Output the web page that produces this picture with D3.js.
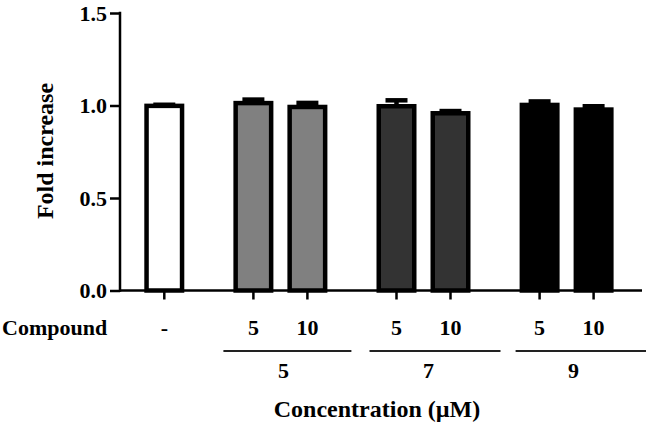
<!DOCTYPE html>
<html>
<head>
<meta charset="utf-8">
<script src="https://cdn.jsdelivr.net/npm/d3@7"></script>
<style>
  html, body { margin: 0; padding: 0; background: #fff; }
  svg { display: block; }
  text { font-family: "Liberation Serif", "Times New Roman", serif; font-weight: bold; fill: #000; }
</style>
</head>
<body>
<svg id="chart" width="646" height="425"></svg>
<script>
// ---- data ----
const concLabels = ["-", "5", "10", "5", "10", "5", "10"];
const compoundIndex = [0, 1, 1, 2, 2, 3, 3];
const compoundLabels = ["5", "7", "9"];
const meanValues = [0.998, 1.013, 0.992, 0.996, 0.958, 1.003, 0.978];
const semValues  = [0.006, 0.019, 0.022, 0.032, 0.012, 0.019, 0.018];
const yTicks = [0, 0.5, 1.0, 1.5];
const yTitle = "Fold increase";
const rowTitle = "Compound";
const xTitle = "Concentration (\u00B5M)";

// ---- layout ----
const svg = d3.select("#chart");
const axisX = 120, axisTop = 13, axisBottom = 290.5, axisRight = 642;
const groupGap = 0.65;
const slot = concLabels.map((d, i) => i + groupGap * compoundIndex[i]);

const x = d3.scaleLinear().domain([0, d3.max(slot)]).range([164.3, 593.6]);
const y = d3.scaleLinear().domain([0, 1.5]).range([axisBottom, axisTop]);
const fill = d3.scaleOrdinal().domain([0, 1, 2, 3]).range(["#ffffff", "#808080", "#333333", "#000000"]);

const barW = 35.5, lw = 4.5, capW = 22;

// error bars (upper only)
const eb = svg.append("g");
meanValues.forEach((m, i) => {
  const cx = x(slot[i]);
  eb.append("line").attr("x1", cx).attr("x2", cx)
    .attr("y1", y(m)).attr("y2", y(m + semValues[i]))
    .attr("stroke", "#000").attr("stroke-width", lw);
  eb.append("line").attr("x1", cx - capW / 2).attr("x2", cx + capW / 2)
    .attr("y1", y(m + semValues[i])).attr("y2", y(m + semValues[i]))
    .attr("stroke", "#000").attr("stroke-width", lw);
});

// bars
svg.append("g").selectAll("rect").data(meanValues).join("rect")
  .attr("x", (d, i) => x(slot[i]) - barW / 2)
  .attr("width", barW)
  .attr("y", d => y(d))
  .attr("height", d => y(0) - y(d))
  .attr("fill", (d, i) => fill(compoundIndex[i]))
  .attr("stroke", "#000")
  .attr("stroke-width", lw);

// y axis
const yAxis = d3.axisLeft(y).tickValues(yTicks).tickFormat(d3.format(".1f")).tickSize(10).tickPadding(3);
const yg = svg.append("g").attr("transform", `translate(${axisX},0)`).call(yAxis);
yg.select(".domain").remove();
yg.selectAll(".tick line").attr("stroke", "#000").attr("stroke-width", 2.5);
yg.selectAll(".tick text").attr("font-size", 22).attr("font-family", "Liberation Serif").attr("font-weight", "bold").attr("fill", "#000");
svg.append("line").attr("x1", axisX).attr("x2", axisX).attr("y1", y(1.5) - 1.2).attr("y2", axisBottom + 1.2)
  .attr("stroke", "#000").attr("stroke-width", 2.5);

// x axis
svg.append("line").attr("x1", axisX).attr("x2", axisRight).attr("y1", axisBottom).attr("y2", axisBottom)
  .attr("stroke", "#000").attr("stroke-width", 2.5);
svg.append("g").selectAll("line").data(slot).join("line")
  .attr("x1", d => x(d)).attr("x2", d => x(d))
  .attr("y1", axisBottom).attr("y2", axisBottom + 9)
  .attr("stroke", "#000").attr("stroke-width", 2.5);

// row labels
svg.append("text").attr("x", 2).attr("y", 335).attr("font-size", 22).text(rowTitle);
svg.append("g").selectAll("text").data(concLabels).join("text")
  .attr("x", (d, i) => x(slot[i])).attr("y", 335)
  .attr("text-anchor", "middle").attr("font-size", 22).text(d => d);

// compound group lines + labels
compoundLabels.forEach((lab, gi) => {
  const idx = compoundIndex.map((c, i) => c === gi + 1 ? i : -1).filter(i => i >= 0);
  const x0 = x(slot[idx[0]]), x1 = x(slot[idx[idx.length - 1]]);
  const mid = (x0 + x1) / 2;
  svg.append("line").attr("x1", x0 - 30 + gi * 3).attr("x2", x1 + 44 + gi * 6)
    .attr("y1", 351).attr("y2", 351).attr("stroke", "#222").attr("stroke-width", 2);
  svg.append("text").attr("x", mid + 3 + gi * 2).attr("y", 378).attr("text-anchor", "middle")
    .attr("font-size", 22).text(lab);
});

// titles
svg.append("text").attr("x", 377).attr("y", 417).attr("text-anchor", "middle").attr("font-size", 24).text(xTitle);
svg.append("text").attr("transform", "translate(53,151) rotate(-90)").attr("text-anchor", "middle")
  .attr("font-size", 24).text(yTitle);
</script>
</body>
</html>
